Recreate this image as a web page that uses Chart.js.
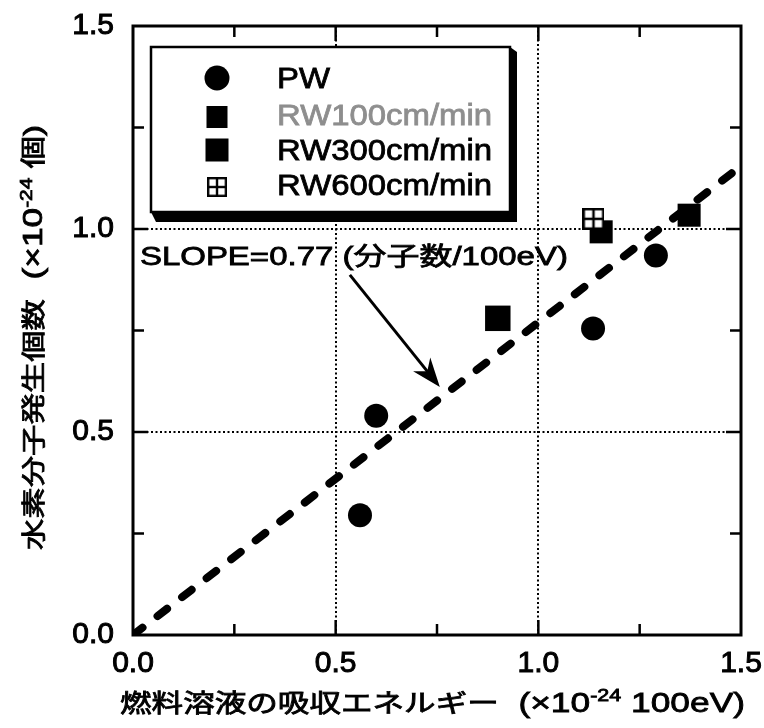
<!DOCTYPE html>
<html>
<head>
<meta charset="utf-8">
<script src="https://cdn.jsdelivr.net/npm/chart.js@4.4.1/dist/chart.umd.min.js"></script>
<style>body{margin:0;background:#fff}</style>
</head>
<body>
<canvas id="c" width="764" height="728"></canvas>
<script>
// data
var pwX = [0.56, 0.60, 1.135, 1.29];
var pwY = [0.295, 0.54, 0.755, 0.935];
var rw100X = [1.155, 1.372];
var rw100Y = [0.993, 1.034];
var rw300X = [0.90];
var rw300Y = [0.78];
var rw600X = [1.136];
var rw600Y = [1.025];
var slope = 0.77;
var fitX = [0, 1.5];
var xTicks = [0, 0.5, 1.0, 1.5];
var majorTicks = [0.5, 1.0];
var minorTicks = [0.25, 0.75, 1.25];
var seriesNames = ['PW', 'RW100cm/min', 'RW300cm/min', 'RW600cm/min'];
var slopeLabel = 'SLOPE=0.77 (分子数/100eV)';
var arrowFrom = [0.535, 0.887];
var arrowTo = [0.757, 0.611];

var FONT = '"Liberation Sans", Arial, "Noto Sans CJK JP", sans-serif';

function pts(xs, ys) {
    return xs.map(function(x, i) { return {x: x, y: ys[i]}; });
}

function gridBox(size) {
    var c = document.createElement('canvas');
    c.width = c.height = size;
    var g = c.getContext('2d');
    g.fillStyle = '#fff';
    g.fillRect(0, 0, size, size);
    g.strokeStyle = '#000';
    g.lineWidth = 2.5;
    g.strokeRect(1.25, 1.25, size - 2.5, size - 2.5);
    g.beginPath();
    g.moveTo(size / 2, 0); g.lineTo(size / 2, size);
    g.moveTo(0, size / 2); g.lineTo(size, size / 2);
    g.stroke();
    return c;
}
var boxImg = gridBox(22);

function runsWidth(ctx, runs) {
    var w = 0;
    runs.forEach(function(r) {
        ctx.font = r[1] + 'px ' + FONT;
        w += ctx.measureText(r[0]).width;
    });
    return w;
}

// draws text pieces (text, size, rise) stretched to a given length
function drawRuns(ctx, runs, x, y, width, angle, color) {
    var w = runsWidth(ctx, runs);
    var sx = width ? width / w : 1;
    ctx.save();
    ctx.translate(x, y);
    if (angle) ctx.rotate(angle);
    ctx.scale(sx, 1);
    ctx.textAlign = 'left';
    ctx.textBaseline = 'alphabetic';
    ctx.fillStyle = color || '#000';
    ctx.strokeStyle = color || '#000';
    ctx.lineWidth = 0.8;
    var cx = 0;
    runs.forEach(function(r) {
        ctx.font = r[1] + 'px ' + FONT;
        ctx.fillText(r[0], cx, -(r[2] || 0));
        ctx.strokeText(r[0], cx, -(r[2] || 0));
        cx += ctx.measureText(r[0]).width;
    });
    ctx.restore();
}

var decor = {
    id: 'decor',
    beforeDatasetsDraw: function(chart) {
        var ctx = chart.ctx, a = chart.chartArea;
        var xs = chart.scales.x, ys = chart.scales.y;
        ctx.save();
        ctx.strokeStyle = '#000';
        ctx.lineWidth = 2.5;
        ctx.beginPath();
        function tick(v, len) {
            var px = xs.getPixelForValue(v), py = ys.getPixelForValue(v);
            ctx.moveTo(px, a.bottom); ctx.lineTo(px, a.bottom - len);
            ctx.moveTo(px, a.top); ctx.lineTo(px, a.top + len);
            ctx.moveTo(a.left, py); ctx.lineTo(a.left + len, py);
            ctx.moveTo(a.right, py); ctx.lineTo(a.right - len, py);
        }
        majorTicks.forEach(function(v) { tick(v, 15); });
        minorTicks.forEach(function(v) { tick(v, 11); });
        ctx.stroke();
        ctx.lineWidth = 3;
        ctx.strokeRect(a.left, a.top, a.right - a.left, a.bottom - a.top);

        // legend box with shadow
        var bx = a.left + 18, by = a.top + 21, bw = 359, bh = 165;
        ctx.fillStyle = '#000';
        ctx.beginPath();
        ctx.moveTo(bx + bw, by);
        ctx.lineTo(bx + bw + 7, by + 5);
        ctx.lineTo(bx + bw + 7, by + bh + 10);
        ctx.lineTo(bx + 5, by + bh + 10);
        ctx.lineTo(bx, by + bh);
        ctx.closePath();
        ctx.fill();
        ctx.fillStyle = '#fff';
        ctx.fillRect(bx, by, bw, bh);
        ctx.lineWidth = 2.5;
        ctx.strokeRect(bx, by, bw, bh);

        var mx = bx + 66, tx = bx + 126;
        var rowsM = [31, 70, 103, 140], rowsT = [41, 78, 113, 148];
        ctx.fillStyle = '#000';
        ctx.beginPath();
        ctx.arc(mx, by + rowsM[0], 12.5, 0, Math.PI * 2);
        ctx.fill();
        ctx.fillRect(mx - 10.5, by + rowsM[1] - 11, 21, 22);
        ctx.fillRect(mx - 11.5, by + rowsM[2] - 11.5, 23, 23);
        ctx.drawImage(boxImg, mx - 10, by + rowsM[3] - 10, 20, 20);

        var sx = 215 / runsWidth(ctx, [[seriesNames[2], 29]]);
        seriesNames.forEach(function(n, i) {
            var w = runsWidth(ctx, [[n, 29]]) * sx;
            drawRuns(ctx, [[n, 29]], tx, by + rowsT[i], w, 0, i === 1 ? '#8e8e8e' : '#000');
        });

        // slope label and arrow
        drawRuns(ctx, [[slopeLabel, 25]], xs.getPixelForValue(0.017), ys.getPixelForValue(0.911), 428);
        var p0x = xs.getPixelForValue(arrowFrom[0]), p0y = ys.getPixelForValue(arrowFrom[1]);
        var p1x = xs.getPixelForValue(arrowTo[0]), p1y = ys.getPixelForValue(arrowTo[1]);
        var dx = p1x - p0x, dy = p1y - p0y, L = Math.sqrt(dx * dx + dy * dy);
        var ux = dx / L, uy = dy / L;
        ctx.strokeStyle = '#000';
        ctx.lineWidth = 3;
        ctx.beginPath();
        ctx.moveTo(p0x, p0y);
        ctx.lineTo(p1x - ux * 18, p1y - uy * 18);
        ctx.stroke();
        ctx.fillStyle = '#000';
        ctx.beginPath();
        ctx.moveTo(p1x, p1y);
        ctx.lineTo(p1x - ux * 29 + uy * 11, p1y - uy * 29 - ux * 11);
        ctx.lineTo(p1x - ux * 20, p1y - uy * 20);
        ctx.lineTo(p1x - ux * 29 - uy * 11, p1y - uy * 29 + ux * 11);
        ctx.closePath();
        ctx.fill();

        // axis titles
        drawRuns(ctx, [['燃料溶液の吸収エネルギー', 25], ['  (×10', 28], ['-24', 17, 11], [' 100eV)', 28]],
            120, 712, 625);
        drawRuns(ctx, [['水素分子発生個数', 24], ['  (×10', 27], ['-24', 16, 10], [' 個)', 25]],
            42, 550, 425, -Math.PI / 2);
        ctx.restore();
    }
};

function noPad(s) {
    s.paddingLeft = 0; s.paddingRight = 0; s.paddingTop = 0; s.paddingBottom = 0;
}

function gridColor(c) {
    return (c.tick && c.tick.value > 0 && c.tick.value < 1.5) ? '#000' : 'rgba(0,0,0,0)';
}

var ctx = document.getElementById('c');
new Chart(ctx, {
    type: 'scatter',
    data: {
        datasets: [
            {
                label: 'fit',
                data: fitX.map(function(x) { return {x: x, y: slope * x}; }),
                showLine: true,
                borderColor: '#000',
                borderWidth: 8,
                borderDash: [12, 19],
                borderCapStyle: 'round',
                pointRadius: 0,
                order: 5
            },
            {
                label: seriesNames[0],
                data: pts(pwX, pwY),
                pointStyle: 'circle',
                pointRadius: 12,
                backgroundColor: '#000',
                borderWidth: 0,
                order: 4
            },
            {
                label: seriesNames[2],
                data: pts(rw300X, rw300Y),
                pointStyle: 'rect',
                pointRadius: 18,
                backgroundColor: '#000',
                borderWidth: 0,
                order: 3
            },
            {
                label: seriesNames[1],
                data: pts(rw100X, rw100Y),
                pointStyle: 'rect',
                pointRadius: 16.3,
                backgroundColor: '#000',
                borderWidth: 0,
                order: 2
            },
            {
                label: seriesNames[3],
                data: pts(rw600X, rw600Y),
                pointStyle: boxImg,
                order: 1
            }
        ]
    },
    options: {
        responsive: false,
        animation: false,
        layout: { padding: { top: 26, right: 23, left: 0, bottom: 0 } },
        plugins: { legend: { display: false }, tooltip: { enabled: false } },
        scales: {
            x: {
                type: 'linear',
                min: 0,
                max: 1.5,
                afterFit: function(s) { s.height = 93; noPad(s); },
                afterBuildTicks: function(s) { s.ticks = xTicks.map(function(v) { return {value: v}; }); },
                ticks: {
                    color: '#000',
                    padding: 11,
                    maxRotation: 0,
                    autoSkip: false,
                    textStrokeColor: '#000',
                    textStrokeWidth: 1,
                    font: { family: FONT, size: 30 },
                    callback: function(v) { return v.toFixed(1); }
                },
                grid: { drawTicks: false, lineWidth: 2, color: gridColor },
                border: { display: false, dash: [2, 2.5] }
            },
            y: {
                type: 'linear',
                min: 0,
                max: 1.5,
                afterFit: function(s) { s.width = 133; noPad(s); },
                afterBuildTicks: function(s) { s.ticks = xTicks.map(function(v) { return {value: v}; }); },
                ticks: {
                    color: '#000',
                    padding: 19,
                    autoSkip: false,
                    textStrokeColor: '#000',
                    textStrokeWidth: 1,
                    font: { family: FONT, size: 30 },
                    callback: function(v) { return v.toFixed(1); }
                },
                grid: { drawTicks: false, lineWidth: 2, color: gridColor },
                border: { display: false, dash: [2, 2.5] }
            }
        }
    },
    plugins: [decor]
});
</script>
</body>
</html>
